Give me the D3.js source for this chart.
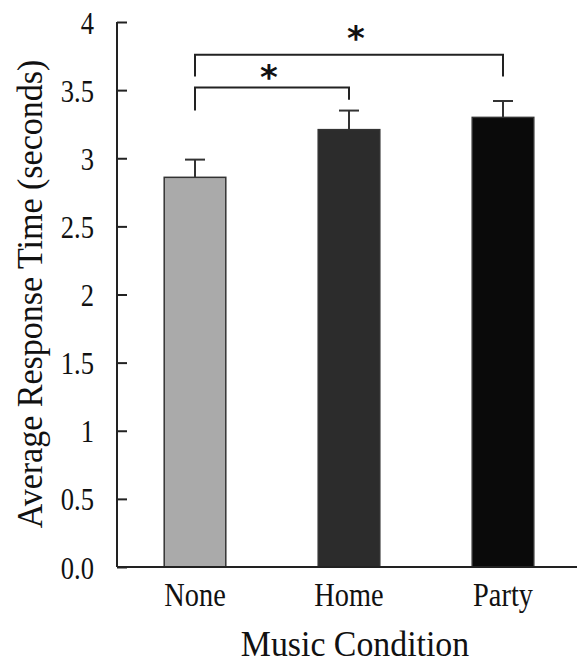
<!DOCTYPE html>
<html>
<head>
<meta charset="utf-8">
<script src="https://cdn.jsdelivr.net/npm/d3@7"></script>
<style>
  body { margin: 0; background: #fff; }
  text { font-family: "Liberation Serif", "Times New Roman", serif; fill: #111; }
</style>
</head>
<body>
<div id="chart"></div>
<script>
// chart data
const conditions = ["None", "Home", "Party"]
const means = [2.86, 3.21, 3.30]
const errors = [0.13, 0.14, 0.12]
const barColors = ["#aaaaaa", "#2c2c2c", "#0a0a0a"]
const yTicks = [0, 0.5, 1, 1.5, 2, 2.5, 3, 3.5, 4]
const yTickLabels = ["0.0", "0.5", "1", "1.5", "2", "2.5", "3", "3.5", "4"]

// significance brackets: from, to, bar height, left leg end, right leg end, star height
const brackets = [
  { from: "None", to: "Home", level: 3.52, leftEnd: 3.35, rightEnd: 3.43, star: 3.625, shift: -3 },
  { from: "None", to: "Party", level: 3.76, leftEnd: 3.60, rightEnd: 3.60, star: 3.91, shift: 7 }
]

const width = 577
const height = 665
const margin = { top: 22, right: 2, bottom: 98, left: 117 }

let svg = d3.select("#chart")
  .append("svg")
  .attr("width", width)
  .attr("height", height)

let x = d3.scaleBand()
  .domain(conditions)
  .range([margin.left + 1, width - margin.right + 5])
  .paddingInner(0.6)
  .paddingOuter(0.3)

let y = d3.scaleLinear()
  .domain([0, 4])
  .range([height - margin.bottom, margin.top])

// bars
svg.append("g")
  .selectAll("rect")
  .data(conditions)
  .enter().append("rect")
  .attr("x", d => x(d))
  .attr("y", (d, i) => y(means[i]))
  .attr("width", x.bandwidth())
  .attr("height", (d, i) => y(0) - y(means[i]))
  .attr("fill", (d, i) => barColors[i])
  .attr("stroke", "#333")
  .attr("stroke-width", 1.5)

// error bars (upper only)
let err = svg.append("g")
  .attr("stroke", "#333")
  .attr("stroke-width", 2)
conditions.forEach((c, i) => {
  let cx = x(c) + x.bandwidth() / 2
  err.append("line")
    .attr("x1", cx).attr("x2", cx)
    .attr("y1", y(means[i])).attr("y2", y(means[i] + errors[i]))
  err.append("line")
    .attr("x1", cx - 10).attr("x2", cx + 10)
    .attr("y1", y(means[i] + errors[i])).attr("y2", y(means[i] + errors[i]))
})

// y axis, ticks pointing inward
let yAxis = svg.append("g")
  .attr("transform", `translate(${margin.left},0)`)
  .call(d3.axisRight(y).tickValues(yTicks).tickSize(10).tickFormat(""))
yAxis.select(".domain").remove()
yAxis.selectAll(".tick line").attr("stroke", "#222").attr("stroke-width", 2)
// tick labels, narrow and tall like the original
yAxis.selectAll(".tick")
  .append("text")
  .attr("transform", "translate(-23,11) scale(0.83,1)")
  .attr("text-anchor", "end")
  .attr("fill", "#111")
  .style("font-size", "32px")
  .style("font-family", "Liberation Serif, serif")
  .text((d, i) => yTickLabels[i])
yAxis.append("line")
  .attr("x1", 0).attr("x2", 0)
  .attr("y1", y(4)).attr("y2", y(0))
  .attr("stroke", "#222").attr("stroke-width", 2)

// x axis baseline
svg.append("line")
  .attr("x1", margin.left).attr("x2", width)
  .attr("y1", y(0)).attr("y2", y(0))
  .attr("stroke", "#222").attr("stroke-width", 2)

// category labels
svg.append("g")
  .selectAll("text")
  .data(conditions)
  .enter().append("text")
  .attr("transform", d => `translate(${x(d) + x.bandwidth() / 2},${y(0) + 39}) scale(0.86,1)`)
  .attr("text-anchor", "middle")
  .style("font-size", "33px")
  .text(d => d)

// axis titles
svg.append("text")
  .attr("transform", "translate(355,656) scale(0.94,1)")
  .attr("text-anchor", "middle")
  .style("font-size", "36px")
  .text("Music Condition")

svg.append("text")
  .attr("transform", "translate(42,294) rotate(-90) scale(1,1.05)")
  .attr("text-anchor", "middle")
  .style("font-size", "34px")
  .text("Average Response Time (seconds)")

// significance brackets with stars
let br = svg.append("g")
brackets.forEach(b => {
  let x1 = x(b.from) + x.bandwidth() / 2
  let x2 = x(b.to) + x.bandwidth() / 2
  br.append("path")
    .attr("d", `M${x1},${y(b.leftEnd)}V${y(b.level)}H${x2}V${y(b.rightEnd)}`)
    .attr("fill", "none")
    .attr("stroke", "#222")
    .attr("stroke-width", 2)
  br.append("text")
    .attr("x", (x1 + x2) / 2 + b.shift)
    .attr("y", y(b.star) + 16)
    .attr("text-anchor", "middle")
    .style("font-size", "34px")
    .style("font-weight", "bold")
    .style("font-family", "DejaVu Sans, sans-serif")
    .text("*")
})
</script>
</body>
</html>
